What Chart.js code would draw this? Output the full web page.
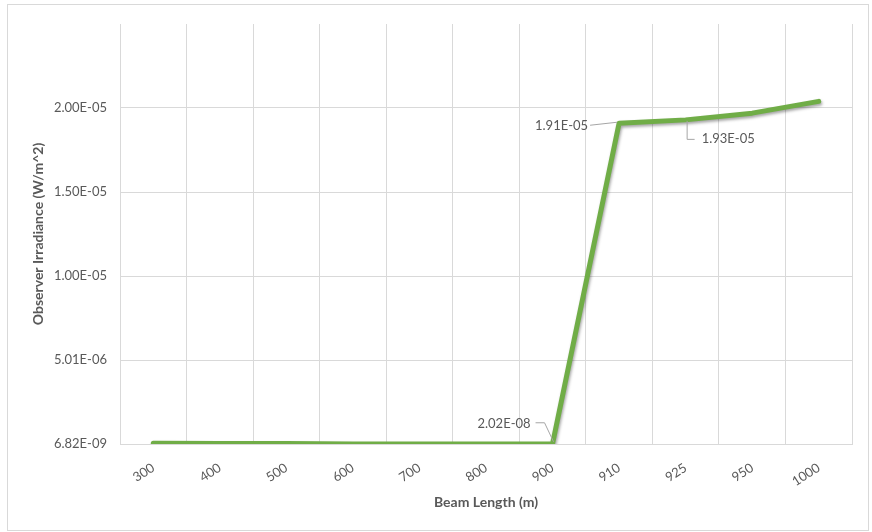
<!DOCTYPE html>
<html><head><meta charset="utf-8">
<script src="https://cdn.jsdelivr.net/npm/chart.js@4"></script>
<style>html,body{margin:0;padding:0;background:#fff}#wrap{width:872px;height:532px;position:relative}</style>
</head><body><div id="wrap"><canvas id="c" width="872" height="532"></canvas></div>
<script>
const categories = ['300','400','500','600','700','800','900','910','925','950','1000'];
const irradiance = [4.5e-8, 4.3e-8, 3.9e-8, 1.2e-8, 6.82e-9, 8.5e-9, 2.02e-8, 1.91e-5, 1.93e-5, 1.97e-5, 2.04e-5];
const yTickValues = [6.82e-9, 5.00682e-6, 1.000682e-5, 1.500682e-5, 2.000682e-5];
const yTickLabels = ['6.82E-09','5.01E-06','1.00E-05','1.50E-05','2.00E-05'];
const yMin = 6.82e-9;
const yMax = 2.500682e-5;
const labelledPoints = [6, 7, 8];
const labelTexts = ['2.02E-08', '1.91E-05', '1.93E-05'];

const FONT = 'Lato, "Open Sans", sans-serif';
const TXT = '#595959';
const GRID = '#d9d9d9';

const framePlugin = {
  id: 'frame',
  beforeDraw(chart) {
    const c = chart.ctx;
    c.save(); c.fillStyle = '#fff'; c.fillRect(0, 0, chart.width, chart.height); c.restore();
  },
  afterDraw(chart) {
    const c = chart.ctx;
    c.save(); c.strokeStyle = GRID; c.lineWidth = 1;
    c.strokeRect(7.5, 4.5, 861, 526); c.restore();
  }
};

const shadowPlugin = {
  id: 'lineShadow',
  beforeDatasetDraw(chart) {
    const c = chart.ctx; c.save();
    c.shadowColor = 'rgba(0,0,0,0.35)'; c.shadowBlur = 3; c.shadowOffsetX = 1; c.shadowOffsetY = 2;
  },
  afterDatasetDraw(chart) { chart.ctx.restore(); }
};

const labelPlugin = {
  id: 'dataLabels',
  afterDatasetsDraw(chart) {
    const c = chart.ctx;
    const meta = chart.getDatasetMeta(0);
    c.save();
    c.font = '13px ' + FONT;
    c.fillStyle = TXT;
    c.strokeStyle = '#a6a6a6';
    c.lineWidth = 1;
    c.textBaseline = 'middle';
    labelledPoints.forEach((idx, k) => {
      const p = meta.data[idx];
      const px = p.x, py = p.y, t = labelTexts[k];
      c.beginPath();
      if (k === 0) {
        c.moveTo(px - 17, py - 21); c.lineTo(px - 8, py - 21); c.lineTo(px + 1, py - 2);
        c.stroke();
        c.textAlign = 'right'; c.fillText(t, px - 22, py - 20);
      } else if (k === 1) {
        c.moveTo(px - 29, py + 2); c.lineTo(px - 2, py - 1);
        c.stroke();
        c.textAlign = 'right'; c.fillText(t, px - 31, py + 3);
      } else {
        c.moveTo(px + 1.5, py + 1); c.lineTo(px + 1.5, py + 19.5); c.lineTo(px + 9, py + 19.5);
        c.stroke();
        c.textAlign = 'left'; c.fillText(t, px + 16, py + 19);
      }
    });
    c.restore();
  }
};

new Chart(document.getElementById('c'), {
  type: 'line',
  data: {
    labels: categories,
    datasets: [{
      data: irradiance,
      borderColor: '#70AD47',
      backgroundColor: '#70AD47',
      borderWidth: 5,
      pointRadius: 0,
      tension: 0,
      borderCapStyle: 'round',
      borderJoinStyle: 'round',
      fill: false
    }]
  },
  options: {
    responsive: false,
    devicePixelRatio: 1,
    animation: false,
    layout: { padding: { left: 0, right: 20, top: 24, bottom: 0 } },
    plugins: { legend: { display: false }, tooltip: { enabled: false } },
    scales: {
      x: {
        type: 'category',
        offset: true,
        grid: { offset: true, color: GRID, drawTicks: false },
        border: { color: GRID },
        ticks: { color: TXT, font: { family: FONT, size: 13 }, minRotation: 33, maxRotation: 33, autoSkip: false, padding: 16 },
        title: { display: true, text: 'Beam Length (m)', color: TXT, font: { family: FONT, size: 14, weight: 'bold' }, padding: { top: 4, bottom: 21 } },
        afterFit(s) { s.height = 88; }
      },
      y: {
        type: 'linear',
        min: yMin,
        max: yMax,
        grid: { color: GRID, drawTicks: false },
        border: { display: false },
        afterBuildTicks(s) { s.ticks = yTickValues.map(v => ({ value: v })); },
        ticks: {
          color: TXT, font: { family: FONT, size: 13 }, padding: 13,
          callback(v, i) { return yTickLabels[i]; }
        },
        title: { display: true, text: 'Observer Irradiance (W/m^2)', color: TXT, font: { family: FONT, size: 14, weight: 'bold' }, padding: { top: 30, bottom: 0 } },
        afterFit(s) { s.width = 120; }
      }
    }
  },
  plugins: [framePlugin, shadowPlugin, labelPlugin]
});
</script>
</body></html>
